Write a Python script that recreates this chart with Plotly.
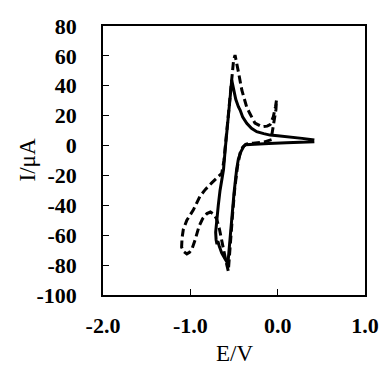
import plotly.graph_objects as go

# Cyclic voltammograms: potential E (V) and current I (uA)
solid_E = [0.42, 0.30, 0.10, -0.10, -0.25, -0.33, -0.37, -0.39, -0.42, -0.45, -0.47, -0.50,
           -0.527, -0.545, -0.555, -0.57, -0.60, -0.64, -0.67, -0.685, -0.695, -0.705,
           -0.71, -0.70, -0.68, -0.66, -0.62, -0.60, -0.58, -0.555, -0.535, -0.526,
           -0.51, -0.48, -0.45, -0.43, -0.40, -0.354, -0.30, -0.24, -0.16, -0.087,
           0.00, 0.14, 0.28, 0.42]
solid_I = [2.6, 2.2, 1.8, 1.4, 1.2, 1.0, 0.6, -0.7, -4.0, -9.0, -16.0, -32.0,
           -50.0, -63.0, -73.0, -79.0, -76.0, -72.0, -67.0, -64.0, -66.0, -63.0,
           -58.0, -50.0, -40.0, -30.0, -16.0, -2.0, 12.0, 28.0, 38.0, 43.9,
           39.0, 31.0, 26.0, 23.8, 19.0, 14.9, 11.5, 9.3, 8.0, 7.0,
           6.5, 5.9, 4.8, 3.7]

dash_E = [-0.07, -0.15, -0.28, -0.36, -0.40, -0.43, -0.46, -0.49, -0.515, -0.535, -0.55,
          -0.565, -0.59, -0.63, -0.67, -0.70, -0.73, -0.77, -0.81, -0.86, -0.90, -0.945,
          -0.98, -1.01, -1.04, -1.075, -1.10, -1.095, -1.08, -1.04, -1.00, -0.965,
          -0.89, -0.83, -0.755, -0.69, -0.64, -0.615, -0.59, -0.565, -0.545, -0.526,
          -0.505, -0.488, -0.47, -0.45, -0.41, -0.356, -0.32, -0.26, -0.18, -0.12,
          -0.087, -0.05, -0.025, -0.013, -0.02, -0.045, -0.07]
dash_I = [4.0, 2.5, 1.6, 1.0, -1.0, -5.0, -14.0, -28.0, -45.0, -60.0, -73.0,
          -84.0, -78.0, -66.0, -55.0, -49.0, -46.0, -44.5, -45.5, -49.0, -54.0, -63.0,
          -69.0, -71.5, -72.5, -71.0, -68.0, -62.0, -56.0, -50.0, -46.0, -43.0,
          -34.0, -29.5, -25.0, -21.0, -18.6, -10.0, 5.0, 22.0, 36.0, 48.0,
          57.0, 60.5, 56.0, 49.4, 37.0, 26.0, 21.6, 15.0, 12.6, 13.0,
          14.0, 19.3, 26.0, 30.5, 24.0, 14.0, 6.0]

x_ticks = [-2.0, -1.0, 0.0, 1.0]
y_ticks = [80, 60, 40, 20, 0, -20, -40, -60, -80, -100]

fig = go.Figure()
fig.add_trace(go.Scatter(x=dash_E, y=dash_I, mode="lines",
                         line=dict(color="black", width=3, dash="8px,4px")))
fig.add_trace(go.Scatter(x=solid_E, y=solid_I, mode="lines",
                         line=dict(color="black", width=3)))

serif = "Times New Roman, Liberation Serif, serif"
tick_font = dict(family=serif, size=22, color="black", weight="bold")
title_font = dict(family=serif, size=23, color="black")

fig.update_layout(
    width=379, height=365,
    margin=dict(l=103, r=14, t=26, b=70),
    paper_bgcolor="white", plot_bgcolor="white",
    showlegend=False,
    xaxis=dict(range=[-2, 1], tickvals=x_ticks, ticktext=[f"{v:.1f}" for v in x_ticks],
               automargin=False,
               showgrid=False, zeroline=False, showline=True, linecolor="black",
               linewidth=1.5, mirror=True, ticks="inside", ticklen=6, tickwidth=1.2,
               tickcolor="black", tickfont=tick_font, ticklabelstandoff=10),
    yaxis=dict(range=[-100, 80], tickvals=y_ticks, ticktext=[str(v) for v in y_ticks],
               automargin=False,
               showgrid=False, zeroline=False, showline=True, linecolor="black",
               linewidth=1.5, mirror=True, ticks="inside", ticklen=6, tickwidth=1.2,
               tickcolor="black", tickfont=tick_font, ticklabelstandoff=20),
    annotations=[
        dict(text="I/μA", x=0, y=0.5, xref="paper", yref="paper", xanchor="center",
             yanchor="middle", xshift=-76, textangle=-90, showarrow=False, font=title_font),
        dict(text="E/V", x=0.5, y=0, xref="paper", yref="paper", xanchor="center",
             yanchor="middle", yshift=-58, showarrow=False, font=title_font),
    ],
)

fig.write_html("out.html")
